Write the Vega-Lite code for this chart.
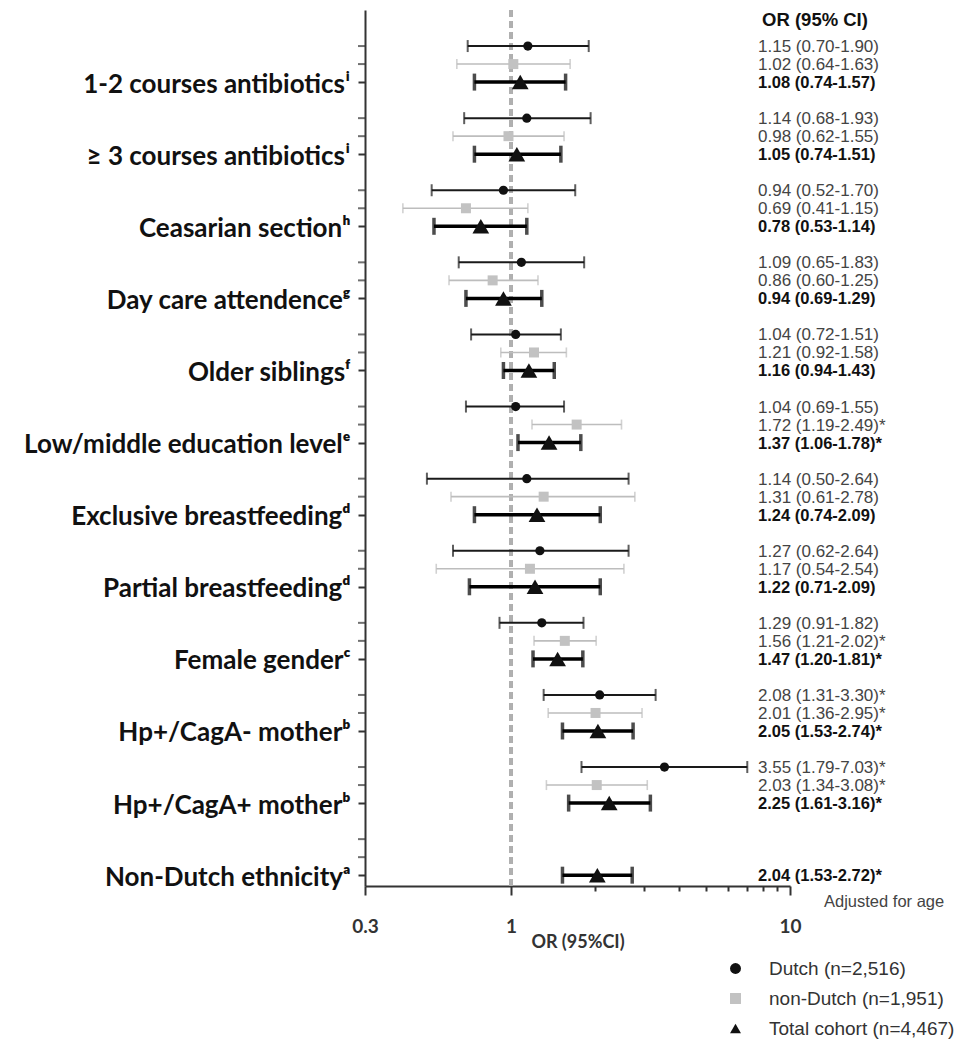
{
  "$schema": "https://vega.github.io/schema/vega-lite/v6.json",
  "autosize": {"type": "none"},
  "padding": {"left": 365, "top": 10, "right": 183, "bottom": 154},
  "width": 425,
  "height": 876,
  "background": "white",
  "config": {
    "view": {"stroke": null},
    "axis": {"domainColor": "#333", "domainWidth": 2, "tickColor": "#333", "tickWidth": 2, "grid": false, "labelOverlap": false, "labelFlush": false, "labelBound": false, "labelLimit": 0}
  },
  "data": {"values": [
    {"factor": "1-2 courses antibiotics", "series": "Dutch (n=2,516)", "row": 2, "OR": 1.15, "lower": 0.70, "upper": 1.90, "label": "1.15 (0.70-1.90)"},
    {"factor": "1-2 courses antibiotics", "series": "non-Dutch (n=1,951)", "row": 3, "OR": 1.02, "lower": 0.64, "upper": 1.63, "label": "1.02 (0.64-1.63)"},
    {"factor": "1-2 courses antibiotics", "series": "Total cohort (n=4,467)", "row": 4, "OR": 1.08, "lower": 0.74, "upper": 1.57, "label": "1.08 (0.74-1.57)"},
    {"factor": "≥ 3 courses antibiotics", "series": "Dutch (n=2,516)", "row": 6, "OR": 1.14, "lower": 0.68, "upper": 1.93, "label": "1.14 (0.68-1.93)"},
    {"factor": "≥ 3 courses antibiotics", "series": "non-Dutch (n=1,951)", "row": 7, "OR": 0.98, "lower": 0.62, "upper": 1.55, "label": "0.98 (0.62-1.55)"},
    {"factor": "≥ 3 courses antibiotics", "series": "Total cohort (n=4,467)", "row": 8, "OR": 1.05, "lower": 0.74, "upper": 1.51, "label": "1.05 (0.74-1.51)"},
    {"factor": "Ceasarian section", "series": "Dutch (n=2,516)", "row": 10, "OR": 0.94, "lower": 0.52, "upper": 1.70, "label": "0.94 (0.52-1.70)"},
    {"factor": "Ceasarian section", "series": "non-Dutch (n=1,951)", "row": 11, "OR": 0.69, "lower": 0.41, "upper": 1.15, "label": "0.69 (0.41-1.15)"},
    {"factor": "Ceasarian section", "series": "Total cohort (n=4,467)", "row": 12, "OR": 0.78, "lower": 0.53, "upper": 1.14, "label": "0.78 (0.53-1.14)"},
    {"factor": "Day care attendence", "series": "Dutch (n=2,516)", "row": 14, "OR": 1.09, "lower": 0.65, "upper": 1.83, "label": "1.09 (0.65-1.83)"},
    {"factor": "Day care attendence", "series": "non-Dutch (n=1,951)", "row": 15, "OR": 0.86, "lower": 0.60, "upper": 1.25, "label": "0.86 (0.60-1.25)"},
    {"factor": "Day care attendence", "series": "Total cohort (n=4,467)", "row": 16, "OR": 0.94, "lower": 0.69, "upper": 1.29, "label": "0.94 (0.69-1.29)"},
    {"factor": "Older siblings", "series": "Dutch (n=2,516)", "row": 18, "OR": 1.04, "lower": 0.72, "upper": 1.51, "label": "1.04 (0.72-1.51)"},
    {"factor": "Older siblings", "series": "non-Dutch (n=1,951)", "row": 19, "OR": 1.21, "lower": 0.92, "upper": 1.58, "label": "1.21 (0.92-1.58)"},
    {"factor": "Older siblings", "series": "Total cohort (n=4,467)", "row": 20, "OR": 1.16, "lower": 0.94, "upper": 1.43, "label": "1.16 (0.94-1.43)"},
    {"factor": "Low/middle education level", "series": "Dutch (n=2,516)", "row": 22, "OR": 1.04, "lower": 0.69, "upper": 1.55, "label": "1.04 (0.69-1.55)"},
    {"factor": "Low/middle education level", "series": "non-Dutch (n=1,951)", "row": 23, "OR": 1.72, "lower": 1.19, "upper": 2.49, "label": "1.72 (1.19-2.49)*"},
    {"factor": "Low/middle education level", "series": "Total cohort (n=4,467)", "row": 24, "OR": 1.37, "lower": 1.06, "upper": 1.78, "label": "1.37 (1.06-1.78)*"},
    {"factor": "Exclusive breastfeeding", "series": "Dutch (n=2,516)", "row": 26, "OR": 1.14, "lower": 0.50, "upper": 2.64, "label": "1.14 (0.50-2.64)"},
    {"factor": "Exclusive breastfeeding", "series": "non-Dutch (n=1,951)", "row": 27, "OR": 1.31, "lower": 0.61, "upper": 2.78, "label": "1.31 (0.61-2.78)"},
    {"factor": "Exclusive breastfeeding", "series": "Total cohort (n=4,467)", "row": 28, "OR": 1.24, "lower": 0.74, "upper": 2.09, "label": "1.24 (0.74-2.09)"},
    {"factor": "Partial breastfeeding", "series": "Dutch (n=2,516)", "row": 30, "OR": 1.27, "lower": 0.62, "upper": 2.64, "label": "1.27 (0.62-2.64)"},
    {"factor": "Partial breastfeeding", "series": "non-Dutch (n=1,951)", "row": 31, "OR": 1.17, "lower": 0.54, "upper": 2.54, "label": "1.17 (0.54-2.54)"},
    {"factor": "Partial breastfeeding", "series": "Total cohort (n=4,467)", "row": 32, "OR": 1.22, "lower": 0.71, "upper": 2.09, "label": "1.22 (0.71-2.09)"},
    {"factor": "Female gender", "series": "Dutch (n=2,516)", "row": 34, "OR": 1.29, "lower": 0.91, "upper": 1.82, "label": "1.29 (0.91-1.82)"},
    {"factor": "Female gender", "series": "non-Dutch (n=1,951)", "row": 35, "OR": 1.56, "lower": 1.21, "upper": 2.02, "label": "1.56 (1.21-2.02)*"},
    {"factor": "Female gender", "series": "Total cohort (n=4,467)", "row": 36, "OR": 1.47, "lower": 1.20, "upper": 1.81, "label": "1.47 (1.20-1.81)*"},
    {"factor": "Hp+/CagA- mother", "series": "Dutch (n=2,516)", "row": 38, "OR": 2.08, "lower": 1.31, "upper": 3.30, "label": "2.08 (1.31-3.30)*"},
    {"factor": "Hp+/CagA- mother", "series": "non-Dutch (n=1,951)", "row": 39, "OR": 2.01, "lower": 1.36, "upper": 2.95, "label": "2.01 (1.36-2.95)*"},
    {"factor": "Hp+/CagA- mother", "series": "Total cohort (n=4,467)", "row": 40, "OR": 2.05, "lower": 1.53, "upper": 2.74, "label": "2.05 (1.53-2.74)*"},
    {"factor": "Hp+/CagA+ mother", "series": "Dutch (n=2,516)", "row": 42, "OR": 3.55, "lower": 1.79, "upper": 7.03, "label": "3.55 (1.79-7.03)*"},
    {"factor": "Hp+/CagA+ mother", "series": "non-Dutch (n=1,951)", "row": 43, "OR": 2.03, "lower": 1.34, "upper": 3.08, "label": "2.03 (1.34-3.08)*"},
    {"factor": "Hp+/CagA+ mother", "series": "Total cohort (n=4,467)", "row": 44, "OR": 2.25, "lower": 1.61, "upper": 3.16, "label": "2.25 (1.61-3.16)*"},
    {"factor": "Non-Dutch ethnicity", "series": "Dutch (n=2,516)", "row": 46, "OR": null, "lower": null, "upper": null, "label": ""},
    {"factor": "Non-Dutch ethnicity", "series": "non-Dutch (n=1,951)", "row": 47, "OR": null, "lower": null, "upper": null, "label": ""},
    {"factor": "Non-Dutch ethnicity", "series": "Total cohort (n=4,467)", "row": 48, "OR": 2.04, "lower": 1.53, "upper": 2.72, "label": "2.04 (1.53-2.72)*"}
  ]},
  "layer": [
    {
      "mark": {"type": "rule", "color": "#b0b0b0", "strokeWidth": 2.5, "strokeDash": [7, 4]},
      "encoding": {
        "x": {"datum": 1, "type": "quantitative", "scale": {"type": "log", "domain": [0.3, 10], "nice": false},
          "axis": {"title": "OR (95%CI)", "values": [0.3, 1, 2, 3, 4, 5, 6, 7, 8, 9, 10],
            "labelExpr": "datum.value < 0.35 ? '0.3' : datum.value == 1 ? '1' : datum.value > 9.5 ? '10' : ''",
            "tickSize": {"condition": {"test": "datum.value < 0.35 || datum.value == 1 || datum.value > 9.5", "value": 9}, "value": 5},
            "labelOverlap": false, "labelFlush": false,
            "labelFont": "Lato", "labelFontWeight": "bold", "labelFontSize": 19, "labelColor": "#333", "labelPadding": 22,
            "titleFont": "Lato", "titleFontWeight": "bold", "titleFontSize": 18, "titleColor": "#333", "titlePadding": -3}}
      }
    },
    {
      "transform": [{"filter": {"field": "series", "oneOf": ["Dutch (n=2,516)", "non-Dutch (n=1,951)"]}}],
      "mark": {"type": "tick", "orient": "horizontal", "color": "#333", "thickness": 2, "size": 7, "xOffset": -3.5},
      "encoding": {
        "x": {"datum": 0.3, "type": "quantitative", "scale": {"type": "log", "domain": [0.3, 10], "nice": false}},
        "y": {"field": "row", "type": "quantitative", "scale": {"domain": [0, 48.6], "nice": false, "zero": false, "reverse": true},
          "axis": {"title": null, "values": [4, 8, 12, 16, 20, 24, 28, 32, 36, 40, 44, 48],
            "labelExpr": "datum.value == 4 ? '1-2 courses antibiotics\u2071' : datum.value == 8 ? '\u2265 3 courses antibiotics\u2071' : datum.value == 12 ? 'Ceasarian section\u02b0' : datum.value == 16 ? 'Day care attendence\u1d4d' : datum.value == 20 ? 'Older siblings\u1da0' : datum.value == 24 ? 'Low/middle education level\u1d49' : datum.value == 28 ? 'Exclusive breastfeeding\u1d48' : datum.value == 32 ? 'Partial breastfeeding\u1d48' : datum.value == 36 ? 'Female gender\u1d9c' : datum.value == 40 ? 'Hp+/CagA- mother\u1d47' : datum.value == 44 ? 'Hp+/CagA+ mother\u1d47' : 'Non-Dutch ethnicity\u1d43'",
            "labelOverlap": false, "labelLimit": 0, "labelFontSize": 26,
            "tickSize": 7, "labelFont": "Lato", "labelFontWeight": "bold", "labelColor": "#111", "labelPadding": 8, "labelOffset": 2}}
      }
    },
    {
      "transform": [{"filter": {"field": "series", "equal": "Dutch (n=2,516)"}}],
      "mark": {"type": "rule", "color": "#1a1a1a", "strokeWidth": 2},
      "encoding": {
        "x": {"field": "lower", "type": "quantitative", "title": "OR (95%CI)", "scale": {"type": "log", "domain": [0.3, 10], "nice": false}},
        "x2": {"field": "upper"},
        "y": {"field": "row", "type": "quantitative", "title": null, "scale": {"domain": [0, 48.6], "nice": false, "zero": false, "reverse": true}}
      }
    },
    {
      "transform": [{"filter": {"field": "series", "equal": "Dutch (n=2,516)"}}, {"fold": ["lower", "upper"], "as": ["end", "ci"]}],
      "mark": {"type": "tick", "orient": "vertical", "color": "#1a1a1a", "thickness": 2, "size": 12},
      "encoding": {
        "x": {"field": "ci", "type": "quantitative", "title": "OR (95%CI)", "scale": {"type": "log", "domain": [0.3, 10], "nice": false}},
        "y": {"field": "row", "type": "quantitative", "title": null, "scale": {"domain": [0, 48.6], "nice": false, "zero": false, "reverse": true}}
      }
    },
    {
      "transform": [{"filter": {"field": "series", "equal": "non-Dutch (n=1,951)"}}],
      "mark": {"type": "rule", "color": "#bdbdbd", "strokeWidth": 1.6},
      "encoding": {
        "x": {"field": "lower", "type": "quantitative", "title": "OR (95%CI)", "scale": {"type": "log", "domain": [0.3, 10], "nice": false}},
        "x2": {"field": "upper"},
        "y": {"field": "row", "type": "quantitative", "title": null, "scale": {"domain": [0, 48.6], "nice": false, "zero": false, "reverse": true}}
      }
    },
    {
      "transform": [{"filter": {"field": "series", "equal": "non-Dutch (n=1,951)"}}, {"fold": ["lower", "upper"], "as": ["end", "ci"]}],
      "mark": {"type": "tick", "orient": "vertical", "color": "#bdbdbd", "thickness": 1.6, "size": 10},
      "encoding": {
        "x": {"field": "ci", "type": "quantitative", "title": "OR (95%CI)", "scale": {"type": "log", "domain": [0.3, 10], "nice": false}},
        "y": {"field": "row", "type": "quantitative", "title": null, "scale": {"domain": [0, 48.6], "nice": false, "zero": false, "reverse": true}}
      }
    },
    {
      "transform": [{"filter": {"field": "series", "equal": "Total cohort (n=4,467)"}}],
      "mark": {"type": "rule", "color": "#000", "strokeWidth": 3.5},
      "encoding": {
        "x": {"field": "lower", "type": "quantitative", "title": "OR (95%CI)", "scale": {"type": "log", "domain": [0.3, 10], "nice": false}},
        "x2": {"field": "upper"},
        "y": {"field": "row", "type": "quantitative", "title": null, "scale": {"domain": [0, 48.6], "nice": false, "zero": false, "reverse": true}}
      }
    },
    {
      "transform": [{"filter": {"field": "series", "equal": "Total cohort (n=4,467)"}}, {"fold": ["lower", "upper"], "as": ["end", "ci"]}],
      "mark": {"type": "tick", "orient": "vertical", "color": "#000", "thickness": 3.5, "size": 17},
      "encoding": {
        "x": {"field": "ci", "type": "quantitative", "title": "OR (95%CI)", "scale": {"type": "log", "domain": [0.3, 10], "nice": false}},
        "y": {"field": "row", "type": "quantitative", "title": null, "scale": {"domain": [0, 48.6], "nice": false, "zero": false, "reverse": true}}
      }
    },
    {
      "transform": [{"filter": {"field": "series", "equal": "Dutch (n=2,516)"}}],
      "mark": {"type": "point", "filled": true, "opacity": 1, "size": 85},
      "encoding": {
        "x": {"field": "OR", "type": "quantitative", "title": "OR (95%CI)", "scale": {"type": "log", "domain": [0.3, 10], "nice": false}},
        "y": {"field": "row", "type": "quantitative", "title": null, "scale": {"domain": [0, 48.6], "nice": false, "zero": false, "reverse": true}},
        "shape": {"field": "series", "type": "nominal", "scale": {"domain": ["Dutch (n=2,516)", "non-Dutch (n=1,951)", "Total cohort (n=4,467)"], "range": ["circle", "square", "triangle-up"]},
          "legend": {"title": null, "orient": "none", "legendX": 361, "legendY": 949, "labelFont": "Liberation Sans", "labelFontSize": 19, "labelColor": "#333", "labelOffset": 24, "labelLimit": 0, "rowPadding": 10, "symbolSize": 120, "symbolStrokeWidth": 0}},
        "color": {"field": "series", "type": "nominal", "scale": {"domain": ["Dutch (n=2,516)", "non-Dutch (n=1,951)", "Total cohort (n=4,467)"], "range": ["#111111", "#c2c2c2", "#111111"]}}
      }
    },
    {
      "transform": [{"filter": {"field": "series", "equal": "non-Dutch (n=1,951)"}}],
      "mark": {"type": "point", "filled": true, "opacity": 1, "size": 100},
      "encoding": {
        "x": {"field": "OR", "type": "quantitative", "title": "OR (95%CI)", "scale": {"type": "log", "domain": [0.3, 10], "nice": false}},
        "y": {"field": "row", "type": "quantitative", "title": null, "scale": {"domain": [0, 48.6], "nice": false, "zero": false, "reverse": true}},
        "shape": {"field": "series", "type": "nominal", "scale": {"domain": ["Dutch (n=2,516)", "non-Dutch (n=1,951)", "Total cohort (n=4,467)"], "range": ["circle", "square", "triangle-up"]},
          "legend": {"title": null, "orient": "none", "legendX": 361, "legendY": 949, "labelFont": "Liberation Sans", "labelFontSize": 19, "labelColor": "#333", "labelOffset": 24, "labelLimit": 0, "rowPadding": 10, "symbolSize": 120, "symbolStrokeWidth": 0}},
        "color": {"field": "series", "type": "nominal", "scale": {"domain": ["Dutch (n=2,516)", "non-Dutch (n=1,951)", "Total cohort (n=4,467)"], "range": ["#111111", "#c2c2c2", "#111111"]}}
      }
    },
    {
      "transform": [{"filter": {"field": "series", "equal": "Total cohort (n=4,467)"}}],
      "mark": {"type": "point", "filled": true, "opacity": 1, "size": 280},
      "encoding": {
        "x": {"field": "OR", "type": "quantitative", "title": "OR (95%CI)", "scale": {"type": "log", "domain": [0.3, 10], "nice": false}},
        "y": {"field": "row", "type": "quantitative", "title": null, "scale": {"domain": [0, 48.6], "nice": false, "zero": false, "reverse": true}},
        "shape": {"field": "series", "type": "nominal", "scale": {"domain": ["Dutch (n=2,516)", "non-Dutch (n=1,951)", "Total cohort (n=4,467)"], "range": ["circle", "square", "triangle-up"]},
          "legend": {"title": null, "orient": "none", "legendX": 361, "legendY": 949, "labelFont": "Liberation Sans", "labelFontSize": 19, "labelColor": "#333", "labelOffset": 24, "labelLimit": 0, "rowPadding": 10, "symbolSize": 120, "symbolStrokeWidth": 0}},
        "color": {"field": "series", "type": "nominal", "scale": {"domain": ["Dutch (n=2,516)", "non-Dutch (n=1,951)", "Total cohort (n=4,467)"], "range": ["#111111", "#c2c2c2", "#111111"]}}
      }
    },
    {
      "transform": [{"filter": {"field": "series", "oneOf": ["Dutch (n=2,516)", "non-Dutch (n=1,951)"]}}],
      "mark": {"type": "text", "align": "left", "baseline": "middle", "dy": 1, "font": "Liberation Sans", "fontSize": 17, "color": "#444"},
      "encoding": {
        "x": {"datum": 7.68, "type": "quantitative", "scale": {"type": "log", "domain": [0.3, 10], "nice": false}},
        "y": {"field": "row", "type": "quantitative", "title": null, "scale": {"domain": [0, 48.6], "nice": false, "zero": false, "reverse": true}},
        "text": {"field": "label"}
      }
    },
    {
      "transform": [{"filter": {"field": "series", "equal": "Total cohort (n=4,467)"}}],
      "mark": {"type": "text", "align": "left", "baseline": "middle", "dy": 1, "font": "Liberation Sans", "fontSize": 16.5, "fontWeight": "bold", "color": "#111"},
      "encoding": {
        "x": {"datum": 7.68, "type": "quantitative", "scale": {"type": "log", "domain": [0.3, 10], "nice": false}},
        "y": {"field": "row", "type": "quantitative", "title": null, "scale": {"domain": [0, 48.6], "nice": false, "zero": false, "reverse": true}},
        "text": {"field": "label"}
      }
    },
    {
      "data": {"values": [{"note": "OR (95% CI)"}]},
      "mark": {"type": "text", "align": "left", "baseline": "middle", "font": "Liberation Sans", "fontSize": 18.5, "fontWeight": "bold", "color": "#111"},
      "encoding": {
        "x": {"datum": 7.94, "type": "quantitative", "scale": {"type": "log", "domain": [0.3, 10], "nice": false}},
        "y": {"datum": 0.56, "type": "quantitative", "scale": {"domain": [0, 48.6], "nice": false, "zero": false, "reverse": true}},
        "text": {"field": "note"}
      }
    },
    {
      "data": {"values": [{"note": "Adjusted for age"}]},
      "mark": {"type": "text", "align": "left", "baseline": "middle", "font": "Liberation Sans", "fontSize": 16.5, "color": "#444", "letterSpacing": 0.6},
      "encoding": {
        "x": {"datum": 13.24, "type": "quantitative", "scale": {"type": "log", "domain": [0.3, 10], "nice": false}},
        "y": {"datum": 49.47, "type": "quantitative", "scale": {"domain": [0, 48.6], "nice": false, "zero": false, "reverse": true}},
        "text": {"field": "note"}
      }
    }
  ]
}
